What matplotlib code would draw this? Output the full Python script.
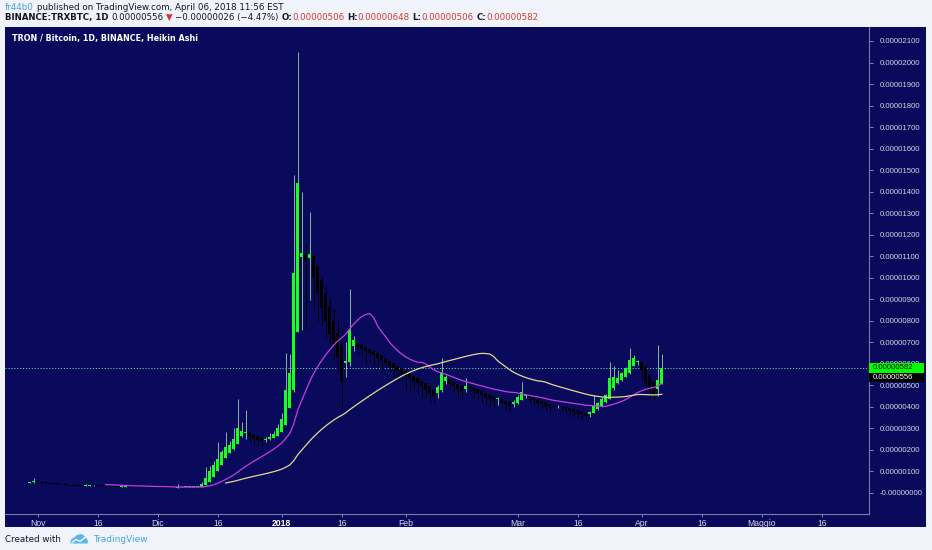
import matplotlib
matplotlib.use('Agg')
import matplotlib.pyplot as plt
import matplotlib.dates as mdates
from matplotlib.patches import Rectangle, Polygon
from matplotlib.lines import Line2D
import numpy as np
import pandas as pd

# ---------------- data (prices in 1e-8 BTC) ----------------
dates = pd.date_range('2017-10-30', '2018-04-06', freq='D')
ha_open_first = 48
ha_close = [50, 54, 50, 47, 45, 42, 40, 41, 40, 37, 35, 34, 33, 33, 36, 37, 37, 34, 32, 31,
            30, 30, 29, 30, 30, 29, 28, 28, 27, 27, 26, 26, 26, 25, 25, 25, 24, 27, 28, 28,
            29, 30, 31,
            40, 70, 100, 130, 160, 190, 215, 225, 250, 300, 290, 285, 265, 255, 245, 240, 252,
            262, 275, 300, 345, 479, 557,
            1022, 1440, 1115, 1080, 1110, 1000, 930, 860, 800, 740, 690, 630, 520, 612, 757, 711,
            680, 670, 660, 650, 640, 628, 615, 603, 592, 580, 567, 555, 545, 533, 522, 510,
            498, 485, 465, 450,
            492, 562, 540, 508, 496, 484, 474, 497, 486, 474, 464, 455, 446, 438, 426, 440,
            420, 412, 403,
            424, 448, 471, 455, 440, 430, 420, 412, 404, 398, 400, 405, 398, 392, 385, 378,
            372, 365, 358,
            378, 405, 420, 438, 455, 533, 541, 533, 556, 579, 618, 626, 612, 570, 510, 480,
            455, 527, 582]
ha_high = [53, 70, 54, 50, 47, 45, 43, 43, 42, 41, 38, 36, 35, 35, 40, 39, 39, 37, 35, 33,
           32, 32, 31, 32, 31, 31, 30, 30, 29, 29, 28, 28, 28, 27, 27, 27, 26, 42, 31, 30,
           31, 32, 33,
           50, 120, 125, 150, 235, 200, 285, 240, 300, 435, 330, 385, 285, 270, 260, 255, 262,
           280, 290, 320, 370, 650, 648,
           1478, 2051, 1400, 1150, 1305, 1110, 1060, 1005, 960, 905, 860, 805, 760, 700, 950, 730,
           700, 690, 680, 670, 660, 650, 640, 628, 615, 605, 592, 580, 567, 556, 545, 533,
           522, 510, 497, 481,
           500, 627, 548, 530, 519, 507, 496, 535, 500, 490, 481, 473, 464, 455, 447, 445,
           438, 429, 421,
           430, 455, 517, 460, 453, 447, 438, 429, 421, 412, 406, 410, 404, 401, 396, 391,
           385, 378, 372,
           380, 455, 425, 445, 460, 610, 590, 570, 560, 585, 672, 641, 620, 610, 590, 550,
           515, 688, 648]
ha_low = [46, 48, 47, 44, 42, 40, 38, 38, 38, 35, 33, 32, 31, 31, 32, 34, 34, 32, 30, 29,
          28, 28, 27, 28, 28, 27, 26, 26, 25, 25, 24, 24, 24, 23, 23, 23, 22, 24, 26, 26,
          27, 28, 28,
          28, 35, 60, 90, 120, 140, 170, 190, 200, 230, 260, 250, 230, 225, 220, 215, 238,
          245, 258, 270, 290, 340, 430,
          470, 750, 757, 760, 897, 850, 800, 780, 720, 670, 620, 560, 400, 540, 590, 660,
          640, 630, 600, 610, 590, 585, 560, 570, 560, 540, 520, 520, 480, 470, 490, 460,
          440, 440, 420, 420,
          440, 470, 505, 480, 470, 450, 440, 470, 460, 440, 430, 420, 410, 400, 395, 410,
          395, 385, 380,
          400, 415, 430, 440, 420, 410, 395, 390, 380, 375, 385, 395, 380, 370, 360, 355,
          350, 345, 340,
          355, 370, 385, 400, 418, 440, 480, 505, 520, 540, 555, 600, 595, 530, 470, 440,
          430, 450, 506]
ma_fast_len = 20
ma_slow_len = 50
last_ha_close = 582
last_price = 556

y_ticks = [0, 100, 200, 300, 400, 500, 600, 700, 800, 900, 1000, 1100, 1200, 1300, 1400,
           1500, 1600, 1700, 1800, 1900, 2000, 2100]
y_tick_labels = ['-0.00000000'] + ['%.8f' % (v * 1e-8) for v in y_ticks[1:]]
x_tick_dates = ['2017-11-01', '2017-11-16', '2017-12-01', '2017-12-16', '2018-01-01',
                '2018-01-16', '2018-02-01', '2018-03-01', '2018-03-16', '2018-04-01',
                '2018-04-16', '2018-05-01', '2018-05-16']
x_tick_labels = ['Nov', '16', 'Dic', '16', '2018', '16', 'Feb', 'Mar', '16', 'Apr', '16',
                 'Maggio', '16']

# ---------------- styling ----------------
W, H = 932, 550
NAVY = '#0a0a5c'
PAGE = '#f0f3fa'
UP = '#1cff1c'
DOWN = '#000000'
UP_WICK = '#8ab894'
AXIS_TXT = '#d4d4e4'
DARK_TXT = '#131722'
RED_TXT = '#d23a30'
BLUE_TXT = '#4aa3dc'


def fx(x):
    return x / W


def fy(y):
    return 1 - y / H


fig = plt.figure(figsize=(W / 100, H / 100), dpi=100)
fig.patch.set_facecolor(PAGE)
fig.add_artist(Rectangle((fx(5), fy(527)), (926 - 5) / W, (527 - 27) / H,
                         transform=fig.transFigure, facecolor=NAVY, edgecolor='none',
                         zorder=-2))

ax = fig.add_axes([fx(5), fy(514), (869 - 5) / W, (514 - 27) / H])
ax.set_facecolor(NAVY)
for s in ['left', 'top']:
    ax.spines[s].set_visible(False)
for s in ['right', 'bottom']:
    ax.spines[s].set_color('#7b7ba6')
    ax.spines[s].set_linewidth(0.8)

# ---------------- candles ----------------
xs = mdates.date2num(dates.to_pydatetime())
n = len(ha_close)
ha_open = [ha_open_first]
for i in range(1, n):
    ha_open.append((ha_open[-1] + ha_close[i - 1]) / 2.0)
o = np.array(ha_open, dtype=float)
c = np.array(ha_close, dtype=float)
h = np.maximum(np.array(ha_high, dtype=float), np.maximum(o, c))
l = np.minimum(np.array(ha_low, dtype=float), np.minimum(o, c))
up = c >= o
wick_cols = [UP_WICK if u else DOWN for u in up]
body_cols = [UP if u else DOWN for u in up]
ax.vlines(xs, l, h, colors=wick_cols, linewidth=0.7, zorder=2)
bottoms = np.minimum(o, c)
heights = np.maximum(np.abs(c - o), 3.5)
ax.bar(xs, heights, bottom=bottoms, width=0.85, color=body_cols, edgecolor='none',
       linewidth=0, zorder=3)

# moving averages
close_s = pd.Series(c, index=dates)
ma_fast = close_s.rolling(ma_fast_len).mean()
ma_slow = close_s.rolling(ma_slow_len).mean()
ax.plot(xs, ma_fast.values, color='#c13fe0', linewidth=0.9, zorder=4)
ax.plot(xs, ma_slow.values, color='#e2d88e', linewidth=0.9, zorder=4)

# last value line
ax.axhline(last_ha_close, color='#4fd6a0', linewidth=0.7, linestyle=(0, (1.2, 1.8)),
           zorder=1)

# ---------------- axes ----------------
nov1 = mdates.date2num(pd.Timestamp('2017-11-01').to_pydatetime())
ax.set_xlim(nov1 - 8.175, nov1 + 207.8)
ax.set_ylim(-97.6, 2165)

ax.yaxis.tick_right()
ax.set_yticks(y_ticks)
ax.set_yticklabels(y_tick_labels, family='Liberation Sans', fontsize=5.6, color=AXIS_TXT)
ax.tick_params(axis='y', which='both', length=3, width=0.6, color='#9a9ac0', pad=5)

xt = mdates.date2num(pd.to_datetime(x_tick_dates).to_pydatetime())
ax.set_xticks(xt)
ax.set_xticklabels(x_tick_labels, family='Liberation Sans', fontsize=6.2, color=AXIS_TXT)
ax.tick_params(axis='x', which='both', length=2.5, width=0.6, color='#9a9ac0', pad=1.2)
for lab in ax.get_xticklabels():
    if lab.get_text() == '2018':
        lab.set_fontweight('bold')
        lab.set_color('#ffffff')

# price boxes on the scale
fig.add_artist(Rectangle((fx(869), fy(372.5)), (924 - 869) / W, 9.5 / H,
                         transform=fig.transFigure, facecolor='#00ff00', edgecolor='none',
                         zorder=5))
fig.text(fx(873), fy(367.7), '%.8f' % (last_ha_close * 1e-8), fontsize=5.6,
         family='Liberation Sans', color='#000000', va='center', ha='left', zorder=6)
fig.add_artist(Rectangle((fx(869), fy(382)), (924 - 869) / W, 9.5 / H,
                         transform=fig.transFigure, facecolor='#000000', edgecolor='none',
                         zorder=5))
fig.text(fx(873), fy(377.3), '%.8f' % (last_price * 1e-8), fontsize=5.6,
         family='Liberation Sans', color='#ffffff', va='center', ha='left', zorder=6)

# ---------------- header / footer texts ----------------
renderer = fig.canvas.get_renderer()


def text_w(s, size, weight='normal', family='DejaVu Sans'):
    t = fig.text(0, 0, s, fontsize=size, weight=weight, family=family)
    w = t.get_window_extent(renderer).width
    t.remove()
    return w


def draw_runs(runs, x0, y, x1, family='DejaVu Sans', base=6.0):
    sp = text_w('a a', base, family=family) - text_w('aa', base, family=family)
    tot = 0
    for i, (s, col, wt, gap) in enumerate(runs):
        tot += text_w(s, base, wt, family) + (sp if gap else 0)
    size = base * (x1 - x0) / tot
    sp = sp * size / base
    x = x0
    for s, col, wt, gap in runs:
        if gap:
            x += sp
        t = fig.text(fx(x), fy(y), s, fontsize=size, color=col, weight=wt, family=family,
                     ha='left', va='center', zorder=6)
        x += t.get_window_extent(renderer).width


draw_runs([('fr44b0', BLUE_TXT, 'normal', False),
           ('published on TradingView.com, April 06, 2018 11:56 EST', DARK_TXT, 'normal', True)],
          5, 7, 285)
draw_runs([('BINANCE:TRXBTC, 1D', DARK_TXT, 'bold', False),
           ('0.00000556', DARK_TXT, 'normal', True),
           ('\u25bc', RED_TXT, 'normal', True),
           ('\u22120.00000026 (\u22124.47%)', DARK_TXT, 'normal', True),
           ('O:', DARK_TXT, 'bold', True),
           ('0.00000506', RED_TXT, 'normal', False),
           ('H:', DARK_TXT, 'bold', True),
           ('0.00000648', RED_TXT, 'normal', False),
           ('L:', DARK_TXT, 'bold', True),
           ('0.00000506', RED_TXT, 'normal', False),
           ('C:', DARK_TXT, 'bold', True),
           ('0.00000582', RED_TXT, 'normal', False)],
          5, 17.5, 537)
draw_runs([('TRON / Bitcoin, 1D, BINANCE, Heikin Ashi', '#ffffff', 'bold', False)],
          12, 38.5, 200)
draw_runs([('Created with', DARK_TXT, 'normal', False)], 5, 539, 62)
draw_runs([('TradingView', BLUE_TXT, 'normal', False)], 93, 539, 148)

# logo
cloud = [(70, 543.5), (71, 539.5), (74, 537.5), (77, 535), (81, 534), (84, 535.5), (86.5, 538),
         (88, 541), (87.5, 543.5)]
fig.add_artist(Polygon([(fx(a), fy(b)) for a, b in cloud], closed=True,
                       transform=fig.transFigure, facecolor='#5fb4e8', edgecolor='none',
                       zorder=6))
zig = [(72, 542.5), (76, 539.5), (80, 541.5), (85.5, 537)]
fig.add_artist(Line2D([fx(a) for a, b in zig], [fy(b) for a, b in zig],
                      transform=fig.transFigure, color='#ffffff', linewidth=0.9, zorder=7))

fig.savefig('out.png', dpi=100, facecolor=fig.get_facecolor())
